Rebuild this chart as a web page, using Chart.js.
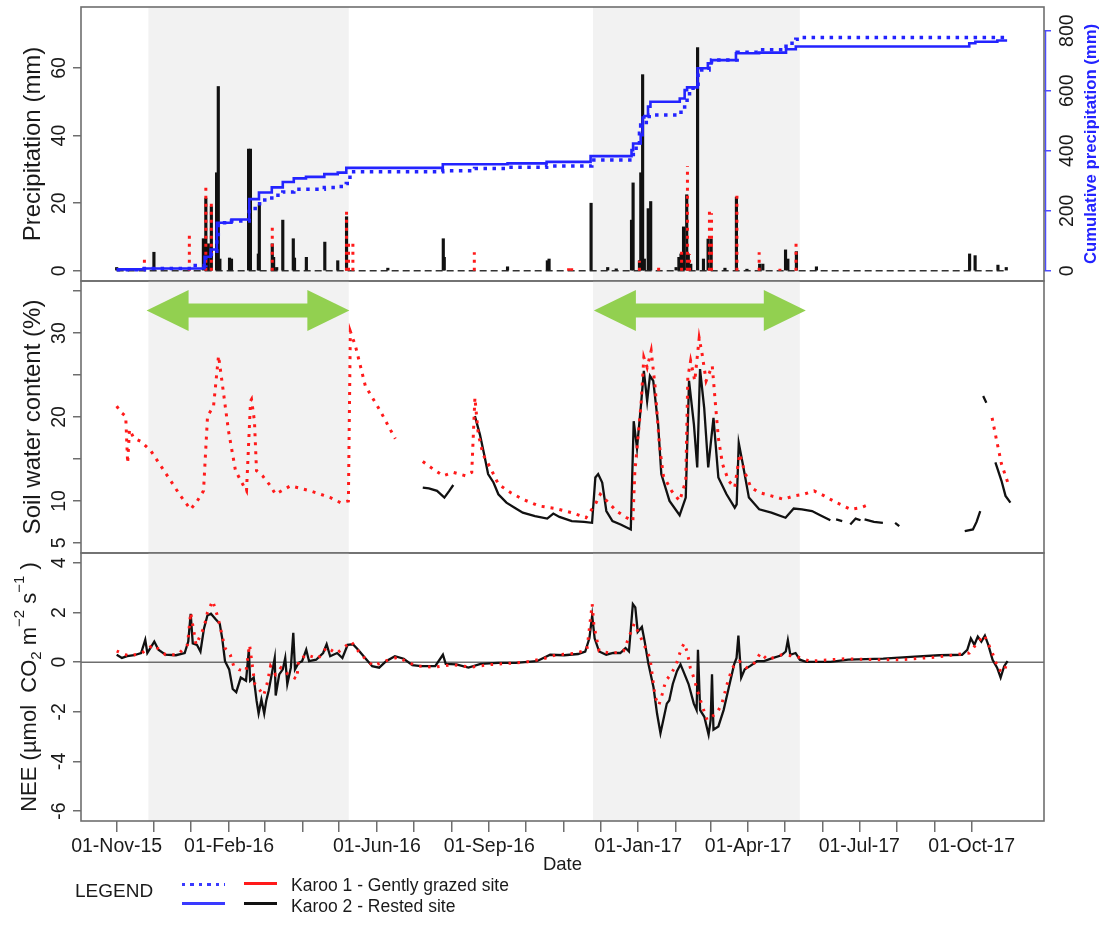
<!DOCTYPE html>
<html>
<head>
<meta charset="utf-8">
<script src="https://cdn.jsdelivr.net/npm/chart.js@4.4.1/dist/chart.umd.min.js"></script>
<style>
  html, body { margin: 0; padding: 0; background: #fff; }
  #wrap { position: relative; width: 1101px; height: 927px; overflow: hidden; font-family: 'Liberation Sans', Arial, sans-serif; color: #1a1a1a; }
  #wrap canvas { position: absolute; left: 0; }
  .lg { position: absolute; white-space: nowrap; }
  .sw { position: absolute; height: 3px; }
</style>
</head>
<body>
<div id="wrap">
  <canvas id="cPrecip" width="1101" height="290" style="top:0px"></canvas>
  <canvas id="cSoil" width="1101" height="285" style="top:275px"></canvas>
  <canvas id="cNee" width="1101" height="382" style="top:545px"></canvas>

  <div class="lg" style="left:75px; top:880px; font-size:19px;">LEGEND</div>
  <div class="sw" style="left:182px; top:883px; width:43px; background:repeating-linear-gradient(to right,#3a3aff 0 3.5px,transparent 3.5px 8.5px);"></div>
  <div class="sw" style="left:182px; top:902px; width:43px; background:#3a3aff;"></div>
  <div class="sw" style="left:244px; top:882px; width:33px; background:#ff1a1a;"></div>
  <div class="sw" style="left:244px; top:902px; width:33px; background:#111;"></div>
  <div class="lg" style="left:291px; top:875px; font-size:17.5px;">Karoo 1 - Gently grazed site</div>
  <div class="lg" style="left:291px; top:896px; font-size:17.5px;">Karoo 2 - Rested site</div>
</div>

<script>
// x = days since 01-Nov-2015
const X_MIN = -29.2, X_MAX = 759.2;

const monthTicks = [0, 30, 61, 92, 121, 152, 182, 213, 243, 274, 305, 335, 366, 396, 427, 458, 486, 517, 547, 578, 608, 639, 670, 700];
const monthLabels = ['01-Nov-15', '', '', '01-Feb-16', '', '', '', '01-Jun-16', '', '', '01-Sep-16', '', '', '', '01-Jan-17', '', '', '01-Apr-17', '', '', '01-Jul-17', '', '', '01-Oct-17'];

// shaded wet seasons and the green arrows above them
const wetSeasons = [[26, 190], [390, 559.3]];
const arrowSpans = [[24.5, 190.5], [390.7, 564.2]];
const arrowLevel = 32.7;

const precipTicks = [0, 20, 40, 60];
const cumTicks = [0, 200, 400, 600, 800];
const soilTicks = [5, 10, 15, 20, 25, 30, 35];
const soilTickLabels = ['5', '10', '', '20', '', '30', ''];
const neeTicks = [-6, -4, -2, 0, 2, 4];

// daily precipitation (mm) [day, value]
const precipK2 = [
  [0, 1], [30.5, 5.5], [71, 9.5], [73, 21.5], [75, 8], [77.5, 19], [81.8, 29], [83.2, 54.5], [84.5, 3.5], [92.4, 3.8], [94, 3.5],
  [108, 36], [109.5, 36], [116, 5], [116.8, 19.5], [127.4, 8], [128.5, 4], [131, 1], [136, 15], [144.6, 9.5], [145.6, 3.8],
  [155.3, 4], [170.4, 8.5], [181, 3], [188.2, 16], [222, 0.8], [267.4, 9.5], [268.2, 4], [320, 1.2], [352.6, 3], [354, 3.5],
  [388.4, 20], [402, 1], [409, 0.6], [421.5, 15], [422.8, 26], [428, 3], [429.1, 29], [430.6, 58], [432, 3.5], [435.2, 18.4], [437.2, 20.5],
  [458, 1], [460.3, 4], [462, 5], [464.1, 13], [466.7, 22.5], [468, 5], [470, 2], [475.6, 66], [480.4, 3.5], [484.2, 9.4], [486.7, 9.4],
  [498, 0.8], [507.4, 21.8], [516, 0.5], [526.4, 2], [529, 2], [547.6, 6.2], [549.5, 3.5], [556.5, 5.7], [572.9, 1.2],
  [698.3, 5], [702.8, 4.5], [721.5, 1.7], [728.3, 1]
];
const precipK1 = [
  [22.7, 3.5], [59.5, 10.8], [73, 25.5], [77.5, 20.5], [127.4, 13], [188.2, 18], [189.8, 8.2], [193.4, 8.2], [292.8, 5.5],
  [370, 0.8], [372.5, 0.8], [428, 3], [443.7, 1], [462.5, 6], [467.3, 31], [469, 5], [485.3, 18], [487, 17], [507.8, 23],
  [526, 5.5], [543, 0.6], [556.2, 8]
];

// cumulative precipitation (mm)
const cumK2 = [
  [0, 5], [22, 8], [71, 10], [72, 47], [77, 71], [82, 160], [94, 171], [108.5, 239], [116.5, 261], [127, 278], [136, 296],
  [145, 308], [155, 313], [170, 322], [181, 327], [188, 343], [267, 355], [320, 358], [352, 363], [388, 382], [421.5, 402],
  [422.8, 424], [429, 452], [430.6, 511], [432, 516], [435, 547], [437, 563], [461, 574], [465, 602], [467, 611], [475.6, 675],
  [484, 691], [487, 702], [507, 725], [526, 727], [548, 738], [556, 747], [698, 758], [703, 763], [721, 767], [729, 767]
];
const cumK1 = [
  [0, 4], [22.7, 7.5], [59.5, 18], [73, 44], [77.5, 65], [82, 105], [83.2, 160], [94, 166], [108.5, 208], [117, 236], [127, 252],
  [136, 263], [145, 272], [170, 278], [181, 281], [188, 291], [191, 319], [194, 330], [267, 333], [293, 341], [320, 345], [352, 349],
  [389, 369], [423, 408], [428, 458], [429, 486], [432, 494], [436, 519], [462, 536], [465, 552], [467, 580], [469, 608], [476, 669],
  [485, 688], [487, 702], [508, 728], [526, 736], [548, 758], [556, 771], [560, 777], [729, 777]
];

// soil water content (%), one sub-array per continuous record
const soilK1 = [
  [[0, 21.3], [4, 20.5], [7.4, 20.1], [9, 14.5], [10.5, 18.5], [14, 17.5], [19.6, 17.1], [27.8, 16], [36, 14.2], [44.2, 12.4],
   [52.3, 10.6], [60.5, 9], [66, 10], [71.1, 11.2], [74.4, 20.1], [79.3, 21.3], [83.4, 27.3], [86.7, 23.7], [91.6, 18.3], [97.3, 13.6],
   [103.9, 11.8], [106.3, 11.2], [109.6, 21.9], [110.4, 22.1], [112.8, 19.5], [114.5, 13.6], [119.4, 13], [125.9, 11.8], [130, 10.8],
   [142.3, 11.8], [158.6, 11.2], [175, 10.4], [183.2, 9.8], [189.7, 10], [191.3, 30.2], [195.4, 28.5], [203.6, 23.7], [215.9, 20.7], [228.1, 17.4]],
  [[250.6, 14.7], [259, 13.8], [267.3, 13], [275.6, 13.4], [285.6, 13], [290.7, 13.4], [293.3, 22.3], [296, 18], [300, 15.5], [305.8, 14],
   [312.5, 12], [322.4, 11], [332.5, 10.2], [345.8, 9.4], [359.2, 9.1], [372.6, 8.6], [384.2, 8], [391.9, 9.6], [395.9, 10.8], [402.6, 9.8],
   [409.2, 8.8], [417.6, 8], [422.6, 7.6], [424.2, 13.4], [429.3, 21.5], [431.6, 27.1], [434.3, 25.9], [437.6, 27.9], [440.9, 23.5],
   [444.3, 16.7], [447.6, 13], [454.3, 11.2], [460.9, 10], [465.9, 12.4], [467.6, 24.7], [469.9, 26.7], [473.3, 24.3], [476.9, 29.4],
   [479.3, 27.5], [482.6, 24.3], [487.6, 26.1], [490, 21.9], [492.6, 17.5], [496, 14.4], [501, 12.4], [506, 11.6], [510, 15.6],
   [514.3, 13.4], [519.3, 11.6], [526, 11], [536, 10.6], [546, 10.2], [554.3, 10.6], [562.6, 10.8], [571, 11.2], [579.3, 10.6],
   [589.3, 9.8], [601, 9], [609.3, 9.2], [616, 9.6]],
  [[716.7, 19.9], [720, 17.5], [724.4, 14.4], [730, 12]]
];
const soilK2 = [
  [[250.6, 11.6], [255.6, 11.5], [262.3, 11.2], [268.3, 10.4], [272.3, 11.2], [275.6, 11.9]],
  [[293.3, 20.1], [297.4, 17.9], [300.8, 15.6], [304.1, 13.2], [308.5, 12.2], [312.5, 10.8], [319.1, 9.8], [325.8, 9.2], [332.5, 8.6],
   [342.5, 8.2], [352.5, 7.9], [357.5, 8.5], [362.5, 8.1], [372.6, 7.6], [382.6, 7.5], [389.2, 7.4], [391.9, 12.8], [394.2, 13.2],
   [397.5, 12.2], [400.9, 8.8], [405.9, 7.6], [412.6, 7.2], [420.9, 6.6], [423.3, 19.5], [426, 16.3], [429.3, 21.5], [431.6, 25.5],
   [434.3, 21.9], [436.6, 24.9], [439.3, 24.3], [443.3, 19.1], [445.9, 13.2], [452.6, 10], [460.9, 8.3], [465.9, 10.4], [468.6, 24.3],
   [472.6, 19.1], [475.3, 14], [477.6, 25.7], [481, 21.1], [484.3, 14], [488.6, 19.9], [492.6, 12.8], [499.3, 10.8], [506, 9.2],
   [507.6, 9.6], [509.3, 16.9], [512.6, 14.4], [517.6, 10.4], [526, 9], [536, 8.6], [547.6, 8], [554.3, 9.1], [561, 9], [569.3, 8.8],
   [576, 8.3], [584.3, 7.7]],
  [[589, 7.8], [594, 7.6]],
  [[600.6, 7.2], [605, 7.9], [609, 7.7]],
  [[612.3, 7.8], [620, 7.5], [627.3, 7.4]],
  [[637.3, 7.4], [640.7, 7.0]],
  [[694.3, 6.4], [701, 6.6], [704, 7.5], [707, 8.8]],
  [[709.4, 22.5], [712, 21.7]],
  [[719.4, 14.6], [724.4, 12.4], [727.7, 10.6], [731.7, 9.8]]
];

// NEE (umol CO2 m-2 s-1)
const neeK2 = [
  [0, 0.3], [4.3, 0.17], [8.6, 0.24], [14.3, 0.28], [20, 0.37], [23.4, 0.9], [25.1, 0.37], [30.8, 0.83], [34.2, 0.5], [39.9, 0.3],
  [48.5, 0.28], [55.7, 0.37], [58.6, 0.83], [60.6, 1.95], [62.3, 0.76], [65.7, 0.7], [68.6, 0.43], [71.5, 1.36], [74.3, 1.88],
  [77.2, 1.95], [80.7, 1.75], [84.4, 1.55], [86.4, 0.96], [88.7, 0.04], [92.1, -0.29], [95, -1.08], [97.9, -1.21], [101.6, -0.62],
  [105.9, -0.75], [108.2, 0.5], [109.3, -0.75], [112.2, -0.62], [114.5, -1.54], [116.2, -2.07], [118.5, -1.5], [120.8, -2.07],
  [122.5, -1.54], [124.5, -1.14], [127.4, -0.36], [129.4, 0.17], [130.2, -1.34], [133.1, -0.49], [136, -0.29], [138, 0.17],
  [139.7, -0.88], [142.6, -0.22], [144.6, 1.18], [146, -0.29], [148.9, -0.03], [151.8, 0.04], [155.2, 0.5], [157.5, 0.04],
  [163.3, 0.1], [169, 0.37], [171.9, 0.72], [174.8, 0.24], [180.5, 0.37], [184.8, 0.17], [189.1, 0.7], [193.4, 0.72], [197.7, 0.5],
  [203.4, 0.17], [209.2, -0.16], [214.9, -0.22], [220.6, 0.04], [227.8, 0.24], [235, 0.14], [242.1, -0.12], [249.3, -0.16],
  [260.8, -0.16], [267.1, 0.3], [269.4, -0.07], [278, -0.09], [288, -0.22], [298, -0.07], [312.4, -0.03], [326.7, -0.03],
  [344, 0.04], [354.9, 0.3], [366.4, 0.28], [377.8, 0.33], [383.6, 0.43], [387, 0.96], [389.3, 1.88], [391.3, 0.96], [395, 0.43],
  [400.8, 0.3], [406.5, 0.37], [412.3, 0.37], [416.6, 0.57], [419.4, 0.43], [422.6, 2.34], [424.6, 2.21], [426.6, 1.22],
  [430, 1.42], [432.3, 0.83], [435.2, -0.03], [439.5, -1.01], [442.4, -2.07], [445.2, -2.86], [448.1, -2.2], [450.4, -1.67],
  [452.4, -1.54], [455.3, -0.88], [458.7, -0.36], [461.6, -0.09], [463.9, -0.36], [468.2, -0.88], [472.5, -1.67],
  [474.8, -1.93], [475.9, 0.5], [477.7, -1.93], [481.1, -2.2], [484.6, -2.92], [486.3, -2.33], [487.4, -0.49], [488.6, -2.72],
  [492.6, -2.59], [496.9, -1.93], [501.2, -1.01], [505.5, -0.09], [507.5, 0.17], [509, 1.07], [511.3, -0.62], [514.2, -0.29],
  [518.5, -0.16], [524.2, 0.04], [530, 0.04], [535.7, 0.14], [544.3, 0.28], [547.8, 0.43], [549.5, 0.89], [551.5, 0.3],
  [555.8, 0.37], [559.3, 0.1], [564.4, 0.01], [584.5, 0.01], [598.9, 0.1], [627.6, 0.14], [653.4, 0.22], [673.5, 0.28],
  [692.1, 0.3], [696.4, 0.5], [699.3, 0.96], [702.2, 0.7], [705, 1.03], [707.9, 0.83], [710.8, 1.07], [713.6, 0.7],
  [717.1, 0.1], [720.8, -0.22], [723.7, -0.62], [726.6, -0.16], [729.4, 0.04]
];
const neeK1 = [
  [0, 0.45], [10, 0.25], [20, 0.35], [30, 0.7], [40, 0.3], [50, 0.3], [58, 0.7], [60.6, 2.0], [65, 0.7], [71.5, 1.4], [74.3, 2.0],
  [78.6, 2.47], [82.9, 1.8], [88.7, 0.57], [93, 0.3], [95.8, -0.16], [100, -0.3], [105.9, -0.36], [108.8, 0.7], [113.1, -0.88],
  [117.4, -1.14], [120.3, -1.34], [123.1, -0.88], [126, -0.16], [130, -0.5], [134.5, -0.22], [140.3, -0.49], [147.5, -0.68],
  [148.9, 0.04], [155, 0.3], [165, 0.15], [172, 0.6], [180, 0.35], [192, 0.83], [200, 0.3], [210, -0.15], [220, 0.05], [230, 0.2],
  [245, -0.15], [260, -0.2], [275, -0.1], [290, -0.2], [305, -0.1], [320, -0.05], [335, 0], [350, 0.15], [360, 0.3], [375, 0.35],
  [385, 0.5], [389.3, 2.34], [390.7, 1.49], [395, 0.45], [405, 0.35], [415, 0.45], [423.7, 1.55], [429.4, 0.96], [436.6, 0.17],
  [440.9, -1.41], [443.8, -1.74], [446.7, -1.28], [449.5, -0.75], [453.8, -0.49], [458.1, -0.09], [462.4, 0.57], [464.7, 0.76],
  [467.3, 0.37], [469.6, -0.22], [472.5, -0.62], [475.4, -1.14], [479.7, -1.8], [483.4, -2.33], [486.9, -2.2], [491.2, -2.07],
  [495.5, -1.67], [499.8, -0.88], [504.1, -0.22], [509.8, 0.04], [515.6, -0.22], [521.3, -0.09], [527.1, 0.37], [532.8, 0.1],
  [544.3, 0.3], [555.8, 0.24], [567.3, 0.04], [596, 0.14], [620, 0.1], [641.9, 0.1], [670, 0.2], [698, 0.37], [705, 0.8],
  [710.2, 1.09], [716.5, 0.43], [722, -0.3], [726, -0.4], [729.4, 0.01]
];

// ---------- helpers ----------
const FONT = "'Liberation Sans', Arial, sans-serif";
const AXIS = '#6e6e6e';
const TXT = '#1a1a1a';
const BLUE = '#2323ff';
const RED = '#ff1a1a';
const BLACK = '#111111';

const xy = arr => arr.map(([x, y]) => ({ x, y }));
const joinSegs = segs => segs.flatMap((s, i) => {
  const pts = xy(s);
  if (i < segs.length - 1) pts.push({ x: s[s.length - 1][0], y: null });
  return pts;
});
const stems = arr => arr.flatMap(([d, v]) => [{ x: d, y: 0 }, { x: d, y: v }, { x: d, y: null }]);

function rotText(ctx, txt, x, y, font, color) {
  ctx.save();
  ctx.translate(x, y);
  ctx.rotate(-Math.PI / 2);
  ctx.font = font;
  ctx.fillStyle = color;
  ctx.textAlign = 'center';
  ctx.textBaseline = 'alphabetic';
  ctx.fillText(txt, 0, 0);
  ctx.restore();
}

function xScale(show) {
  return {
    type: 'linear', min: X_MIN, max: X_MAX, display: show, offset: false,
    afterBuildTicks: s => { s.ticks = monthTicks.map(v => ({ value: v })); },
    afterFit: s => { if (show) s.height = 106; },
    grid: { drawOnChartArea: false, drawTicks: true, tickLength: 11, color: AXIS, lineWidth: 1.5 },
    border: { display: false },
    ticks: { display: false }
  };
}

function yScale(pos, min, max, ticks, width, color, tl) {
  return {
    type: 'linear', position: pos, min, max,
    afterBuildTicks: s => { s.ticks = ticks.map(v => ({ value: v })); },
    afterFit: s => { s.width = width; },
    grid: { drawOnChartArea: false, drawTicks: true, tickLength: tl || 8, color, lineWidth: 1.5 },
    border: { display: false },
    ticks: { display: false }
  };
}

function panelPlugin(extra) {
  return {
    id: 'panel',
    beforeDatasetsDraw(chart) {
      const { ctx, chartArea: a, scales } = chart;
      ctx.save();
      ctx.fillStyle = '#f2f2f2';
      wetSeasons.forEach(([s, e]) => {
        const x1 = scales.x.getPixelForValue(s), x2 = scales.x.getPixelForValue(e);
        ctx.fillRect(x1, a.top, x2 - x1, a.bottom - a.top);
      });
      ctx.restore();
      if (extra.under) extra.under(chart);
    },
    afterDatasetsDraw(chart) {
      const { ctx, chartArea: a } = chart;
      if (extra.over) extra.over(chart);
      ctx.save();
      ctx.strokeStyle = AXIS;
      ctx.lineWidth = 1.6;
      ctx.strokeRect(a.left, a.top, a.right - a.left, a.bottom - a.top);
      ctx.restore();
    },
    afterDraw(chart) {
      if (extra.labels) extra.labels(chart);
    }
  };
}

const baseOptions = padding => ({
  responsive: false, animation: false, devicePixelRatio: 1, events: [],
  layout: { padding },
  plugins: { legend: { display: false }, tooltip: { enabled: false } },
  elements: { point: { radius: 0 }, line: { tension: 0 } }
});

// ---------- top panel: precipitation ----------
const zeroSpan = [[precipK2[0][0], 0], [precipK2[precipK2.length - 1][0], 0]];

new Chart(document.getElementById('cPrecip'), {
  type: 'line',
  data: {
    datasets: [
      { type: 'line', data: xy(cumK2), yAxisID: 'y2', stepped: true, borderColor: BLUE, borderWidth: 2.6, order: 1 },
      { type: 'line', data: xy(cumK1), yAxisID: 'y2', stepped: true, borderColor: BLUE, borderWidth: 3.5, borderDash: [3.5, 5.5], order: 2 },
      { type: 'line', data: stems(precipK1), yAxisID: 'y', borderColor: RED, borderWidth: 3, borderDash: [3, 5], order: 3 },
      { type: 'bar', data: xy(precipK2), yAxisID: 'y', backgroundColor: BLACK, borderWidth: 0, barThickness: 2.5, order: 4 },
      { type: 'line', data: xy(zeroSpan), yAxisID: 'y', borderColor: '#333', borderWidth: 1.5, borderDash: [7, 4], order: 5 }
    ]
  },
  options: Object.assign(baseOptions({ top: 7, bottom: 9, left: 0, right: 0 }), {
    scales: {
      x: xScale(false),
      y: yScale('left', -3, 78, precipTicks, 81, AXIS),
      y2: yScale('right', -33.8, 878.8, cumTicks, 57, '#4d4dff', 7)
    }
  }),
  plugins: [panelPlugin({
    over(chart) {
      const { ctx, chartArea: a, scales } = chart;
      ctx.save();
      ctx.strokeStyle = '#4d4dff';
      ctx.lineWidth = 1.5;
      ctx.beginPath();
      ctx.moveTo(a.right + 1.5, scales.y2.getPixelForValue(cumTicks[0]));
      ctx.lineTo(a.right + 1.5, scales.y2.getPixelForValue(cumTicks[cumTicks.length - 1]));
      ctx.stroke();
      ctx.restore();
    },
    labels(chart) {
      const { ctx, chartArea: a, scales } = chart;
      const mid = (a.top + a.bottom) / 2;
      precipTicks.forEach(v => rotText(ctx, String(v), 65, scales.y.getPixelForValue(v), '19.5px ' + FONT, TXT));
      cumTicks.forEach(v => rotText(ctx, String(v), 1073, scales.y2.getPixelForValue(v), '19.5px ' + FONT, TXT));
      rotText(ctx, 'Precipitation (mm)', 40, mid, '24px ' + FONT, TXT);
      rotText(ctx, 'Cumulative precipitation (mm)', 1096, mid, 'bold 16.7px ' + FONT, BLUE);
    }
  })]
});

// ---------- middle panel: soil water content ----------
new Chart(document.getElementById('cSoil'), {
  type: 'line',
  data: {
    datasets: [
      { data: joinSegs(soilK1), yAxisID: 'y', borderColor: RED, borderWidth: 3, borderDash: [3, 6], order: 1 },
      { data: joinSegs(soilK2), yAxisID: 'y', borderColor: BLACK, borderWidth: 2.3, order: 2 }
    ]
  },
  options: Object.assign(baseOptions({ top: 6, bottom: 7, left: 0, right: 57 }), {
    scales: {
      x: xScale(false),
      y: yScale('left', 3.8, 36.2, soilTicks, 81, AXIS)
    }
  }),
  plugins: [panelPlugin({
    over(chart) {
      const { ctx, scales } = chart;
      const yc = scales.y.getPixelForValue(arrowLevel);
      const hl = 42, hh = 20.5, sh = 7;
      ctx.save();
      ctx.fillStyle = '#92d050';
      arrowSpans.forEach(([s, e]) => {
        const x1 = scales.x.getPixelForValue(s), x2 = scales.x.getPixelForValue(e);
        ctx.beginPath();
        ctx.moveTo(x1, yc);
        ctx.lineTo(x1 + hl, yc - hh);
        ctx.lineTo(x1 + hl, yc - sh);
        ctx.lineTo(x2 - hl, yc - sh);
        ctx.lineTo(x2 - hl, yc - hh);
        ctx.lineTo(x2, yc);
        ctx.lineTo(x2 - hl, yc + hh);
        ctx.lineTo(x2 - hl, yc + sh);
        ctx.lineTo(x1 + hl, yc + sh);
        ctx.lineTo(x1 + hl, yc + hh);
        ctx.closePath();
        ctx.fill();
      });
      ctx.restore();
    },
    labels(chart) {
      const { ctx, chartArea: a, scales } = chart;
      soilTicks.forEach((v, i) => {
        if (soilTickLabels[i]) rotText(ctx, soilTickLabels[i], 65, scales.y.getPixelForValue(v), '19.5px ' + FONT, TXT);
      });
      rotText(ctx, 'Soil water content (%)', 40, (a.top + a.bottom) / 2, '24px ' + FONT, TXT);
    }
  })]
});

// ---------- bottom panel: NEE ----------
new Chart(document.getElementById('cNee'), {
  type: 'line',
  data: {
    datasets: [
      { data: xy(neeK1), yAxisID: 'y', borderColor: RED, borderWidth: 3, borderDash: [2.5, 6.5], order: 1 },
      { data: xy(neeK2), yAxisID: 'y', borderColor: BLACK, borderWidth: 2.3, order: 2 }
    ]
  },
  options: Object.assign(baseOptions({ top: 8, bottom: 0, left: 0, right: 57 }), {
    scales: {
      x: xScale(true),
      y: yScale('left', -6.4, 4.4, neeTicks, 81, AXIS)
    }
  }),
  plugins: [panelPlugin({
    under(chart) {
      const { ctx, chartArea: a, scales } = chart;
      const y0 = scales.y.getPixelForValue(0);
      ctx.save();
      ctx.strokeStyle = AXIS;
      ctx.lineWidth = 1.5;
      ctx.beginPath();
      ctx.moveTo(a.left, y0);
      ctx.lineTo(a.right, y0);
      ctx.stroke();
      ctx.restore();
    },
    labels(chart) {
      const { ctx, chartArea: a, scales } = chart;
      neeTicks.forEach(v => rotText(ctx, String(v), 65, scales.y.getPixelForValue(v), '19.5px ' + FONT, TXT));

      // axis title with sub- and superscripts
      const parts = [['NEE (\u00b5mol  CO', 0, 22], ['2', 5, 15], [' m', 0, 22], ['\u22122', -12, 15],
                     [' s', 0, 22], ['\u22121', -12, 15], [' )', 0, 22]];
      ctx.save();
      ctx.translate(36, (a.top + a.bottom) / 2);
      ctx.rotate(-Math.PI / 2);
      ctx.fillStyle = TXT;
      ctx.textBaseline = 'alphabetic';
      ctx.textAlign = 'left';
      let total = 0;
      parts.forEach(([t, , sz]) => { ctx.font = sz + 'px ' + FONT; total += ctx.measureText(t).width; });
      let cx = -total / 2;
      parts.forEach(([t, dy, sz]) => {
        ctx.font = sz + 'px ' + FONT;
        ctx.fillText(t, cx, dy);
        cx += ctx.measureText(t).width;
      });
      ctx.restore();

      // date tick labels and axis title
      ctx.save();
      ctx.fillStyle = TXT;
      ctx.textAlign = 'center';
      ctx.textBaseline = 'alphabetic';
      ctx.font = '19.5px ' + FONT;
      monthTicks.forEach((d, i) => {
        if (monthLabels[i]) ctx.fillText(monthLabels[i], scales.x.getPixelForValue(d), a.bottom + 30.5);
      });
      ctx.font = '18.5px ' + FONT;
      ctx.fillText('Date', (a.left + a.right) / 2, a.bottom + 49);
      ctx.restore();
    }
  })]
});
</script>
</body>
</html>
